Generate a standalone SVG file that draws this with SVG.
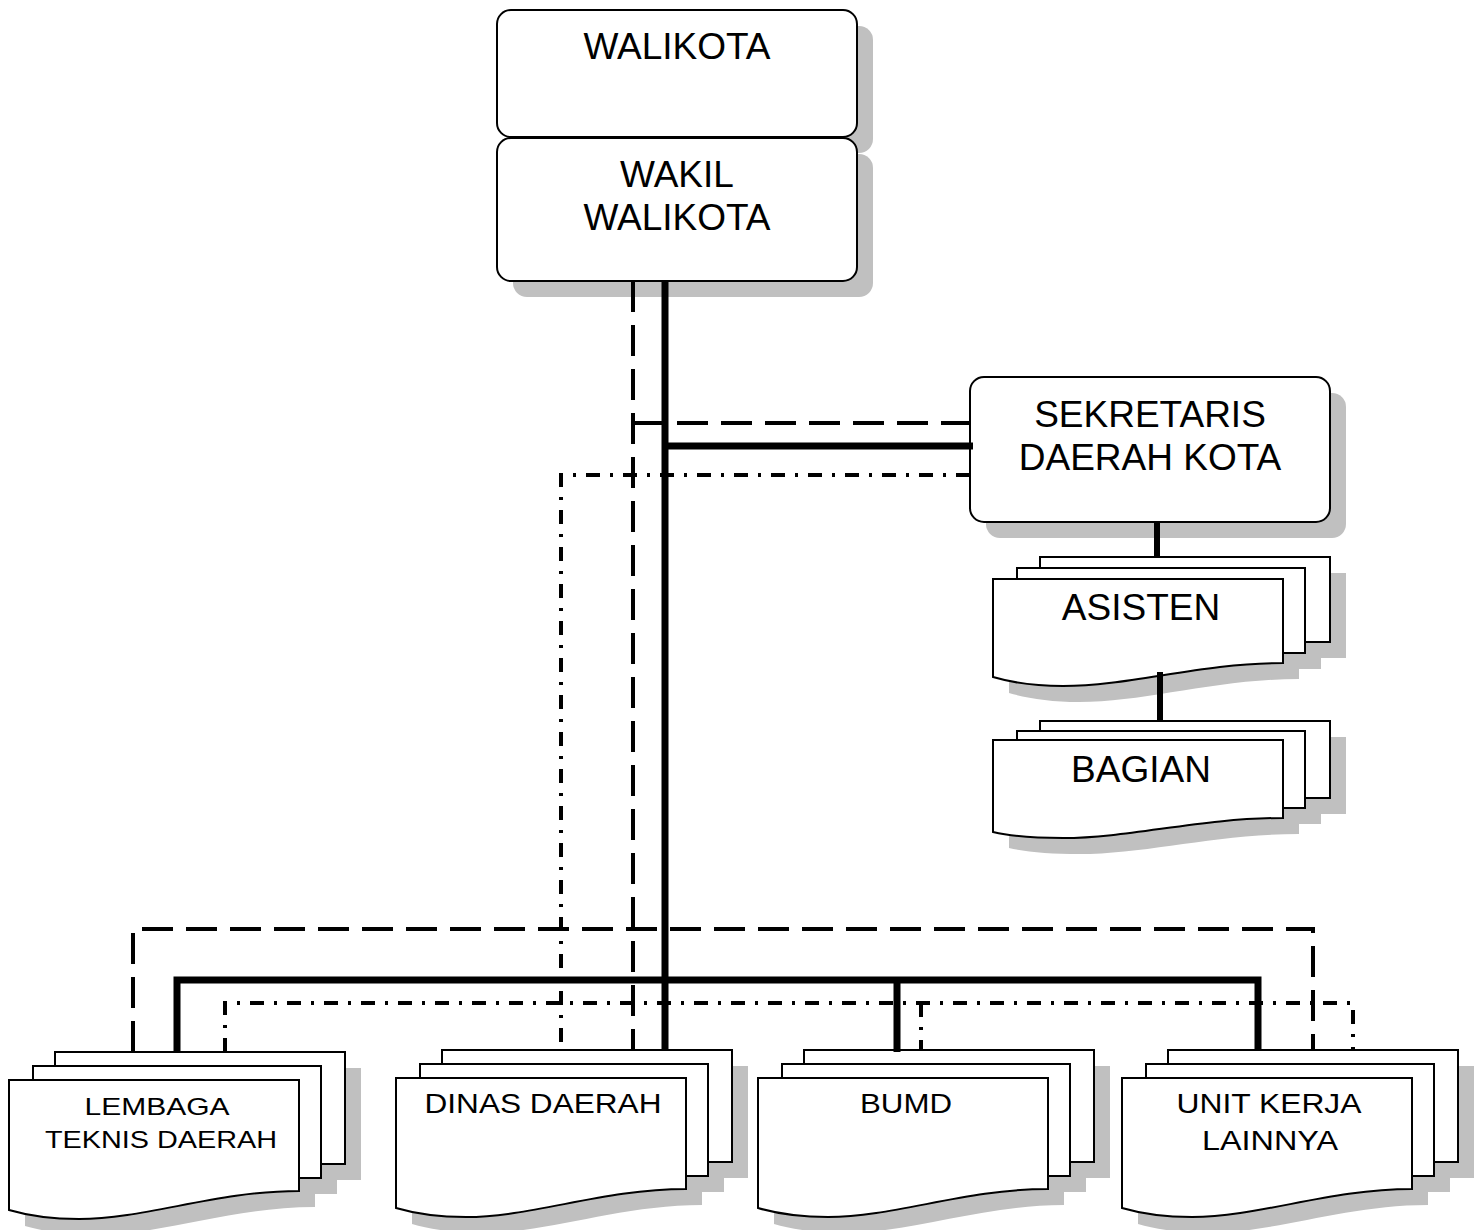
<svg xmlns="http://www.w3.org/2000/svg" width="1477" height="1230" viewBox="0 0 1477 1230">
<style>
.box{fill:#fff;stroke:#000;stroke-width:2}
.sh{fill:#c0c0c0;stroke:none}
.t{font-family:"Liberation Sans",Arial,sans-serif;fill:#000;text-anchor:middle}
.big{font-size:37px}
.mid{font-size:28px}
.sm{font-size:24px}
.thick{fill:none;stroke:#000;stroke-width:7}
.dash{fill:none;stroke:#000;stroke-width:4;stroke-dasharray:31 13}
.dd{fill:none;stroke:#000;stroke-width:4;stroke-dasharray:14 10 3 10}
</style>
<defs>
<g id="stackShape">
<rect x="46" y="-28" width="290" height="112"/>
<rect x="24" y="-14" width="288" height="112"/>
<path d="M0,0 H290 V111 C207,111 137,139 70,139 C42,139 17,135 0,130 Z"/>
</g>
<g id="stack">
<use href="#stackShape" class="sh" transform="translate(16,16)"/>
<use href="#stackShape" class="box"/>
</g>
</defs>
<rect width="1477" height="1230" fill="#fff"/>

<g id="walikota">
<rect x="513" y="26" width="360" height="127" rx="14" class="sh"/>
<rect x="497" y="10" width="360" height="127" rx="14" class="box"/>
<text x="677" y="59" class="t big">WALIKOTA</text>
</g>
<g id="wakil-walikota">
<rect x="513" y="154" width="360" height="143" rx="14" class="sh"/>
<rect x="497" y="138" width="360" height="143" rx="14" class="box"/>
<text x="677" y="187" class="t big">WAKIL</text>
<text x="677" y="230" class="t big">WALIKOTA</text>
</g>
<g id="sekretaris">
<rect x="986" y="393" width="360" height="145" rx="14" class="sh"/>
<rect x="970" y="377" width="360" height="145" rx="14" class="box"/>
<text x="1150" y="427" class="t big">SEKRETARIS</text>
<text x="1150" y="470" class="t big">DAERAH KOTA</text>
</g>
<g id="asisten">
<g class="sh" transform="translate(16,16)">
<rect x="1040" y="557" width="290" height="85"/>
<rect x="1017" y="568" width="288" height="85"/>
<path d="M993,579 H1283 V663 C1200,663 1130,686 1063,686 C1035,686 1010,682 993,677 Z"/>
</g>
<g class="box">
<rect x="1040" y="557" width="290" height="85"/>
<rect x="1017" y="568" width="288" height="85"/>
<path d="M993,579 H1283 V663 C1200,663 1130,686 1063,686 C1035,686 1010,682 993,677 Z"/>
</g>
<text x="1141" y="620" class="t big">ASISTEN</text>
</g>
<g id="bagian">
<g class="sh" transform="translate(16,16)">
<rect x="1040" y="721" width="290" height="77"/>
<rect x="1017" y="731" width="288" height="77"/>
<path d="M993,740 H1283 V818 C1200,818 1130,838 1063,838 C1035,838 1010,836 993,832 Z"/>
</g>
<g class="box">
<rect x="1040" y="721" width="290" height="77"/>
<rect x="1017" y="731" width="288" height="77"/>
<path d="M993,740 H1283 V818 C1200,818 1130,838 1063,838 C1035,838 1010,836 993,832 Z"/>
</g>
<text x="1141" y="782" class="t big">BAGIAN</text>
</g>
<g id="lembaga">
<use href="#stack" transform="translate(9,1080)"/>
<text x="157" y="1115" class="t sm" textLength="145" lengthAdjust="spacingAndGlyphs">LEMBAGA</text>
<text x="161" y="1148" class="t sm" textLength="232" lengthAdjust="spacingAndGlyphs">TEKNIS DAERAH</text>
</g>
<g id="dinas">
<use href="#stack" transform="translate(396,1078)"/>
<text x="543" y="1113" class="t mid" textLength="237" lengthAdjust="spacingAndGlyphs">DINAS DAERAH</text>
</g>
<g id="bumd">
<use href="#stack" transform="translate(758,1078)"/>
<text x="906" y="1113" class="t mid" textLength="92" lengthAdjust="spacingAndGlyphs">BUMD</text>
</g>
<g id="unit-kerja">
<use href="#stack" transform="translate(1122,1078)"/>
<text x="1269" y="1113" class="t mid" textLength="185" lengthAdjust="spacingAndGlyphs">UNIT KERJA</text>
<text x="1270" y="1150" class="t mid" textLength="136" lengthAdjust="spacingAndGlyphs">LAINNYA</text>
</g>

<g id="connectors">
<path class="thick" d="M665,281 V1050 M665,446 H973 M177,1052 V980 H1258 V1050 M897,980 V1052"/>
<path class="thick" d="M1157,522 V557 M1160,672 V721" style="stroke-width:6"/>
<path class="dash" d="M633,281 V1050 M633,423 H970 M133,1052 V929 H1313 V1050"/>
<path class="dd" d="M970,475 H561 V1050 M225,1052 V1003 H1353 V1050 M921,1003 V1050"/>
</g>
</svg>
